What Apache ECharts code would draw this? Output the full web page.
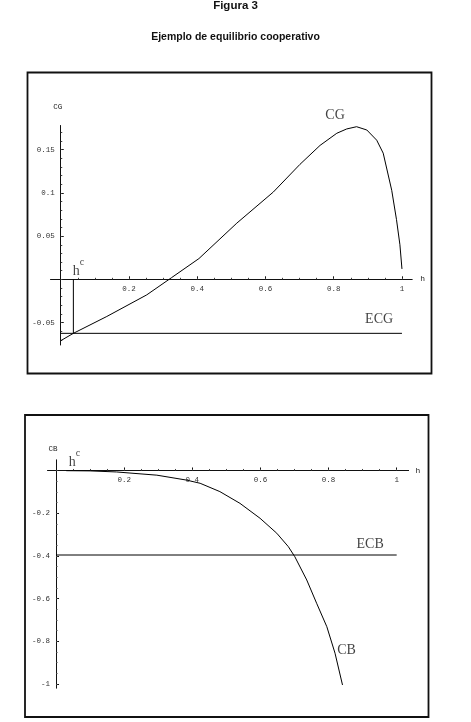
<!DOCTYPE html>
<html>
<head>
<meta charset="utf-8">
<title>Figura 3</title>
<script src="https://cdn.jsdelivr.net/npm/echarts@6/dist/echarts.min.js"></script>
<style>
  html, body { margin: 0; padding: 0; background: #fff; }
  #chart { width: 471px; height: 722px; }
</style>
</head>
<body>
<div id="chart"></div>
<script>
// panel 1: CG as a function of h
var hCG   = [0, 0.037, 0.135, 0.252, 0.325, 0.405, 0.516, 0.623, 0.701, 0.76, 0.809, 0.838, 0.867, 0.897, 0.926, 0.945, 0.970, 0.984, 0.994, 1.0];
var valCG = [-0.071, -0.0625, -0.043, -0.018, 0.002, 0.024, 0.065, 0.101, 0.133, 0.155, 0.169, 0.174, 0.1766, 0.1728, 0.161, 0.146, 0.103, 0.069, 0.040, 0.012];
var ecgLevel = -0.0625;
var hcTop = 0.037;

// panel 2: CB as a function of h
var hCB   = [0.03, 0.1, 0.178, 0.217, 0.296, 0.383, 0.423, 0.481, 0.540, 0.599, 0.648, 0.682, 0.701, 0.736, 0.765, 0.795, 0.819, 0.841];
var valCB = [-0.001, -0.002, -0.007, -0.012, -0.022, -0.045, -0.060, -0.099, -0.154, -0.224, -0.294, -0.357, -0.404, -0.513, -0.622, -0.732, -0.856, -1.005];
var ecbLevel = -0.396;

// tick labels
var xTicks   = [0.2, 0.4, 0.6, 0.8, 1];
var cgTicks  = [-0.05, 0.05, 0.1, 0.15];
var cbTicks  = [-1, -0.8, -0.6, -0.4, -0.2];

// text annotations [h, value]
var cgNote  = [0.804, 0.190];
var ecgNote = [0.933, -0.046];
var hcNote1 = [0.052, 0.009];
var cbNote  = [0.853, -0.844];
var ecbNote = [0.922, -0.344];
var hcNote2 = [0.054, 0.036];

// axis ranges and plot boxes
var panels = [
  { left: 50.5, top: 125.5, width: 361.7, height: 219.5, xMin: -0.03,  xMax: 1.03,  yMin: -0.076, yMax: 0.178 },
  { left: 47.5, top: 459.8, width: 361.1, height: 228.4, xMin: -0.025, xMax: 1.035, yMin: -1.02,  yMax: 0.05 }
];

function minorSteps(from, to, step) {
  var out = [];
  for (var v = from; v <= to + 1e-9; v += step) out.push(+v.toFixed(4));
  return out;
}
function pairs(xs, ys) {
  return xs.map(function (x, i) { return [x, ys[i]]; });
}

var MONO = 'Liberation Mono';
var SERIF = 'Liberation Serif';
var INK = '#111';

// axes cross at the origin: shift them inward by the distance of zero from the grid edge
function xAxisDef(g, major, minor, nameGap) {
  var p = panels[g];
  var off = -(0 - p.yMin) / (p.yMax - p.yMin) * p.height;
  return [{
    gridIndex: g, type: 'value', min: p.xMin, max: p.xMax, position: 'bottom', offset: off,
    name: 'h', nameLocation: 'end', nameGap: nameGap,
    nameTextStyle: { fontFamily: MONO, fontSize: 8, color: '#222' },
    axisLine: { onZero: false, lineStyle: { color: INK, width: 1 } },
    axisTick: { show: true, inside: true, length: 3, customValues: major, lineStyle: { color: INK, width: 1 } },
    axisLabel: { customValues: major, fontFamily: MONO, fontSize: 7.5, color: '#333', margin: 6 },
    splitLine: { show: false }
  }, {
    gridIndex: g, type: 'value', min: p.xMin, max: p.xMax, position: 'bottom', offset: off,
    axisLine: { show: false, onZero: false },
    axisTick: { show: true, inside: true, length: 1.5, customValues: minor, lineStyle: { color: '#444', width: 1 } },
    axisLabel: { show: false },
    splitLine: { show: false }
  }];
}
function yAxisDef(g, major, minor, name, nameGap) {
  var p = panels[g];
  var off = -(0 - p.xMin) / (p.xMax - p.xMin) * p.width;
  return [{
    gridIndex: g, type: 'value', min: p.yMin, max: p.yMax, position: 'left', offset: off,
    name: name, nameLocation: 'end', nameGap: nameGap,
    nameTextStyle: { fontFamily: MONO, fontSize: 7.5, color: '#222', padding: [0, 6, 0, 0] },
    axisLine: { onZero: false, lineStyle: { color: INK, width: 1 } },
    axisTick: { show: true, inside: true, length: 3, customValues: major, lineStyle: { color: INK, width: 1 } },
    axisLabel: { customValues: major, fontFamily: MONO, fontSize: 7.5, color: '#333', margin: 6 },
    splitLine: { show: false }
  }, {
    gridIndex: g, type: 'value', min: p.yMin, max: p.yMax, position: 'left', offset: off,
    axisLine: { show: false, onZero: false },
    axisTick: { show: true, inside: true, length: 1.5, customValues: minor, lineStyle: { color: '#444', width: 1 } },
    axisLabel: { show: false },
    splitLine: { show: false }
  }];
}

var plainLine = { color: '#000', width: 1 };
function curve(xi, yi, data) {
  return {
    type: 'line', xAxisIndex: xi, yAxisIndex: yi, data: data,
    showSymbol: false, smooth: false,
    lineStyle: plainLine, silent: true, animation: false
  };
}
function note(xi, yi, pos, fmt) {
  return {
    type: 'scatter', xAxisIndex: xi, yAxisIndex: yi, data: [pos],
    symbolSize: 0, clip: false, silent: true, animation: false,
    label: {
      show: true, position: 'inside', formatter: fmt,
      fontFamily: SERIF, fontSize: 14, color: '#111',
      rich: {
        h: { fontFamily: SERIF, fontSize: 14, color: '#111' },
        c: { fontFamily: SERIF, fontSize: 10, color: '#111', padding: [0, 0, 18, 0] }
      }
    }
  };
}

var chart = echarts.init(document.getElementById('chart'));
chart.setOption({
  backgroundColor: '#fff',
  animation: false,
  title: [{
    text: 'Figura 3', left: 'center', top: 0, padding: 0,
    textStyle: { fontFamily: 'Liberation Sans', fontWeight: 'bold', fontSize: 11.5, color: '#111' }
  }, {
    text: 'Ejemplo de equilibrio cooperativo', left: 'center', top: 32, padding: 0,
    textStyle: { fontFamily: 'Liberation Sans', fontWeight: 'bold', fontSize: 10.5, color: '#111' }
  }],
  graphic: [
    { type: 'rect', silent: true, shape: { x: 27.5, y: 72.5, width: 404, height: 301 }, style: { fill: 'none', stroke: '#111', lineWidth: 1.8 } },
    { type: 'rect', silent: true, shape: { x: 25, y: 415, width: 403.5, height: 302 }, style: { fill: 'none', stroke: '#111', lineWidth: 1.8 } }
  ],
  grid: panels.map(function (p) {
    return { left: p.left, top: p.top, width: p.width, height: p.height };
  }),
  xAxis: []
    .concat(xAxisDef(0, xTicks, minorSteps(0.05, 1, 0.05), 8))
    .concat(xAxisDef(1, xTicks, minorSteps(0.05, 1, 0.05), 7)),
  yAxis: []
    .concat(yAxisDef(0, cgTicks, minorSteps(-0.07, 0.17, 0.01), 'CG', 14))
    .concat(yAxisDef(1, cbTicks, minorSteps(-1, 0, 0.05), 'CB', 7)),
  series: [
    curve(0, 0, pairs(hCG, valCG)),
    curve(0, 0, [[0, ecgLevel], [1, ecgLevel]]),
    curve(0, 0, [[hcTop, ecgLevel], [hcTop, 0]]),
    note(0, 0, cgNote, 'CG'),
    note(0, 0, ecgNote, 'ECG'),
    note(0, 0, hcNote1, '{h|h}{c|c}'),
    curve(2, 2, pairs(hCB, valCB)),
    curve(2, 2, [[0, ecbLevel], [1, ecbLevel]]),
    note(2, 2, cbNote, 'CB'),
    note(2, 2, ecbNote, 'ECB'),
    note(2, 2, hcNote2, '{h|h}{c|c}')
  ]
});
</script>
</body>
</html>
